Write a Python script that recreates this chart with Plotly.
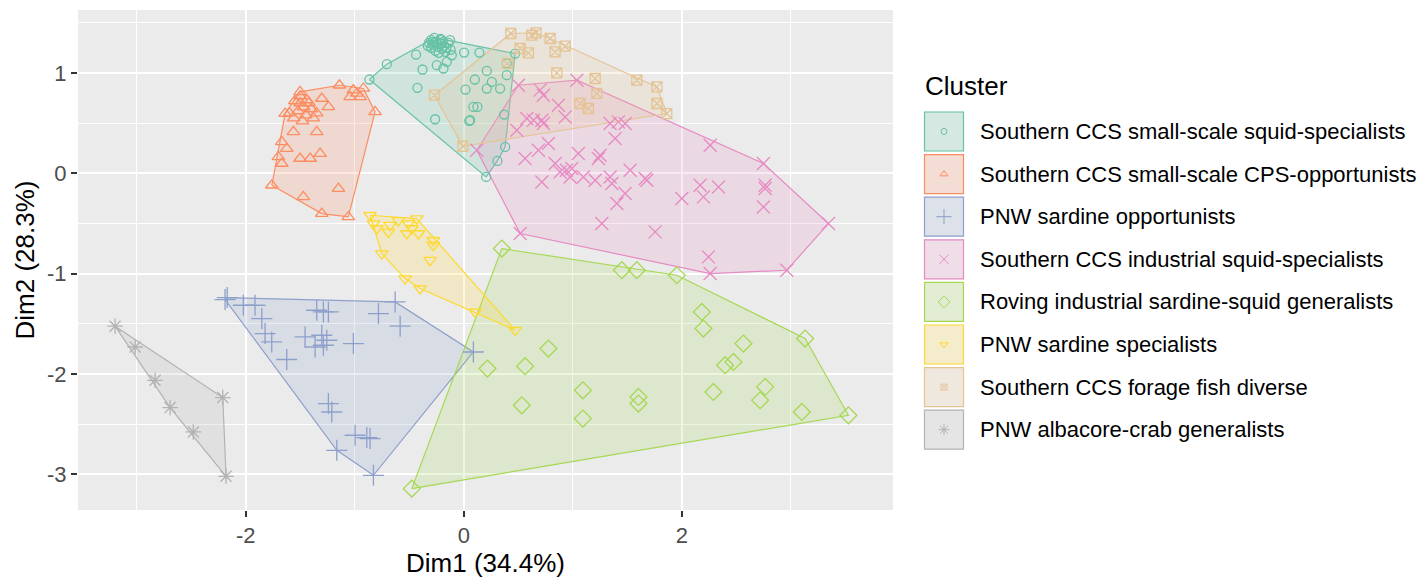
import plotly.graph_objects as go

FONT = "Liberation Sans, Arial, sans-serif"

cluster_names = [
    "Southern CCS small-scale squid-specialists",
    "Southern CCS small-scale CPS-opportunists",
    "PNW sardine opportunists",
    "Southern CCS industrial squid-specialists",
    "Roving industrial sardine-squid generalists",
    "PNW sardine specialists",
    "Southern CCS forage fish diverse",
    "PNW albacore-crab generalists",
]
cluster_colors = ["#66C2A5", "#FC8D62", "#8DA0CB", "#E78AC3",
                  "#A6D854", "#FFD92F", "#E5C494", "#B3B3B3"]
cluster_symbols = ["circle-open", "triangle-up-open", "cross-thin-open", "x-thin-open",
                   "diamond-open", "triangle-down-open", "square-x-open", "asterisk-open"]
cluster_sizes = [9, 11, 15, 13, 13, 11, 10, 13]

teal_x = [-0.866, -0.706, -0.438, -0.379, -0.426, -0.263, 0.003, 0.143, 0.211, 0.101, 0.015,
          0.257, 0.211, 0.333, 0.088, 0.125, 0.051, 0.394, 0.394, 0.471, 0.370, 0.379, 0.308,
          0.205, 0.058, -0.187, -0.248, -0.156, -0.110, -0.126,
          -0.32, -0.30, -0.28, -0.27, -0.25, -0.24, -0.22, -0.21, -0.20, -0.19, -0.18, -0.30,
          -0.26, -0.23, -0.16, -0.14, -0.33, -0.29, -0.24, -0.21, -0.17, -0.12]
teal_y = [0.934, 1.087, 1.183, 1.034, 0.851, 0.538, 1.203, 1.203, 1.020, 0.934, 0.834,
          0.910, 0.844, 0.844, 0.661, 0.661, 0.521, 0.977, 1.094, 1.193, 0.585, 0.262, 0.123,
          -0.037, 0.528, 1.044, 1.077, 1.110, 1.176, 1.326,
          1.30, 1.33, 1.28, 1.35, 1.31, 1.26, 1.33, 1.29, 1.24, 1.31, 1.27, 1.25,
          1.22, 1.20, 1.25, 1.30, 1.27, 1.31, 1.29, 1.34, 1.21, 1.23]

orange_x = [-1.141, -1.502, -0.814, -1.639, -1.761, -1.472, -1.303, -1.059, -1.150, -1.563,
            -1.349, -1.670, -1.624, -1.701, -1.670, -1.502, -1.410, -1.318, -1.303, -1.242,
            -1.013, -0.982, -0.951, -1.043, -0.921,
            -1.55, -1.50, -1.47, -1.44, -1.52, -1.45, -1.40, -1.38, -1.56, -1.48, -1.42,
            -1.35, -1.50, -1.60]
orange_y = [0.877, 0.811, 0.611, 0.595, -0.120, -0.236, -0.402, -0.436, -0.153, 0.412,
            0.412, 0.312, 0.246, 0.163, 0.097, 0.147, 0.147, 0.196, 0.745, 0.661,
            0.828, 0.795, 0.761, 0.761, 0.845,
            0.72, 0.70, 0.66, 0.73, 0.62, 0.58, 0.64, 0.55, 0.55, 0.52, 0.70,
            0.60, 0.77, 0.60]

blue_x = [-2.190, -2.170, -2.022, -1.915, -1.853, -1.823, -1.762, -1.624, -1.349, -1.288,
          -1.242, -1.456, -1.364, -1.303, -1.288, -1.257, -1.013, -0.783, -0.630, -0.584,
          0.088, -1.242, -1.211, -0.997, -0.890, -0.860, -1.165, -0.829]
blue_y = [-1.259, -1.240, -1.316, -1.316, -1.449, -1.598, -1.682, -1.857, -1.366, -1.383,
          -1.383, -1.632, -1.732, -1.615, -1.715, -1.665, -1.698, -1.399, -1.283, -1.525,
          -1.782, -2.296, -2.380, -2.612, -2.635, -2.645, -2.762, -3.011]

pink_x = [0.119, 0.501, 1.037, 2.749, 3.345, 2.963, 2.260, 0.517, 0.700, 0.730, 0.868, 0.929,
          0.486, 0.578, 0.639, 0.716, 0.730, 1.342, 1.418, 1.480, 1.388, 2.260, 0.562, 0.684,
          0.776, 0.838, 0.883, 0.942, 0.991, 0.975, 1.051, 1.097, 1.205, 1.235, 1.251, 1.342,
          1.358, 1.526, 1.664, 1.679, 0.716, 1.480, 1.404, 1.266, 1.755, 2.000, 2.168, 2.198,
          2.336, 2.764, 2.764, 2.749, 2.244]
pink_y = [0.229, 0.877, 0.927, 0.097, -0.502, -0.967, -1.000, -0.601, 0.828, 0.778, 0.678, 0.561,
          0.429, 0.545, 0.528, 0.528, 0.495, 0.495, 0.512, 0.495, 0.346, 0.279, 0.146, 0.229,
          0.296, 0.097, 0.013, 0.030, 0.047, -0.037, 0.196, -0.037, -0.070, 0.146, 0.179, -0.037,
          -0.103, 0.030, -0.053, -0.070, -0.087, -0.202, -0.302, -0.502, -0.585, -0.252, -0.120, -0.236,
          -0.137, -0.120, -0.153, -0.336, -0.834]

green_x = [0.349, 1.450, 1.587, 1.954, 3.131, 3.528, -0.477, 2.183, 2.198, 2.565, 2.397, 2.473,
           2.290, 2.764, 2.718, 3.101, 0.776, 0.562, 0.217, 1.092, 1.602, 1.602, 0.532, 1.092]
green_y = [-0.751, -0.967, -0.967, -1.017, -1.648, -2.413, -3.144, -1.383, -1.548, -1.698, -1.914, -1.881,
           -2.180, -2.130, -2.263, -2.380, -1.748, -1.924, -1.947, -2.164, -2.230, -2.296, -2.313, -2.446]

yellow_x = [-0.860, -0.829, -0.798, -0.676, -0.692, -0.508, -0.477, -0.523, -0.416, -0.279,
            -0.279, -0.309, -0.752, -0.539, -0.401, 0.104, 0.471, -0.431, -0.600]
yellow_y = [-0.419, -0.502, -0.551, -0.518, -0.585, -0.502, -0.551, -0.601, -0.601, -0.668,
            -0.718, -0.867, -0.801, -1.050, -1.150, -1.383, -1.565, -0.452, -0.470]

tan_x = [0.431, 0.624, 0.663, 0.792, 0.929, 0.838, 0.517, 0.593, 0.400, 0.853, 1.205, 1.220,
         1.067, 1.143, 1.587, 1.771, 1.771, 1.862, -0.270, -0.009]
tan_y = [1.393, 1.376, 1.399, 1.343, 1.266, 1.209, 1.243, 1.200, 1.094, 1.000, 0.944, 0.795,
         0.695, 0.645, 0.927, 0.861, 0.695, 0.595, 0.778, 0.269]

grey_x = [-3.199, -3.015, -2.832, -2.694, -2.481, -2.211, -2.181]
grey_y = [-1.525, -1.732, -2.064, -2.336, -2.579, -2.236, -3.021]

cluster_x = [teal_x, orange_x, blue_x, pink_x, green_x, yellow_x, tan_x, grey_x]
cluster_y = [teal_y, orange_y, blue_y, pink_y, green_y, yellow_y, tan_y, grey_y]

x_range = [-3.539, 3.937]
y_range = [-3.357, 1.627]
x_ticks = [-2, 0, 2]
y_ticks = [-3, -2, -1, 0, 1]


def convex_hull(xs, ys):
    pts = sorted(set(zip(xs, ys)))
    if len(pts) < 3:
        return pts

    def cross(o, a, b):
        return (a[0] - o[0]) * (b[1] - o[1]) - (a[1] - o[1]) * (b[0] - o[0])

    lower, upper = [], []
    for p in pts:
        while len(lower) >= 2 and cross(lower[-2], lower[-1], p) <= 0:
            lower.pop()
        lower.append(p)
    for p in reversed(pts):
        while len(upper) >= 2 and cross(upper[-2], upper[-1], p) <= 0:
            upper.pop()
        upper.append(p)
    return lower[:-1] + upper[:-1]


def rgba(hexc, a):
    h = hexc.lstrip("#")
    r, g, b = int(h[0:2], 16), int(h[2:4], 16), int(h[4:6], 16)
    return f"rgba({r},{g},{b},{a})"


fig = go.Figure()

# hulls
for name, xs, ys, col in zip(cluster_names, cluster_x, cluster_y, cluster_colors):
    hull = convex_hull(xs, ys)
    hx = [p[0] for p in hull] + [hull[0][0]]
    hy = [p[1] for p in hull] + [hull[0][1]]
    fig.add_trace(go.Scatter(
        x=hx, y=hy, mode="lines", fill="toself",
        fillcolor=rgba(col, 0.2), line=dict(color=col, width=1.2),
        hoverinfo="skip", showlegend=False, xaxis="x", yaxis="y"))

# points
for name, xs, ys, col, sym, sz in zip(cluster_names, cluster_x, cluster_y,
                                      cluster_colors, cluster_symbols, cluster_sizes):
    fig.add_trace(go.Scatter(
        x=xs, y=ys, mode="markers", name=name,
        marker=dict(symbol=sym, size=sz, color=col, line=dict(color=col, width=1.3)),
        showlegend=False, xaxis="x", yaxis="y"))

# manual legend on a pixel-unit overlay axis
L_X0 = 914
key_left, key_w, key_h = 924, 40, 40
row0, pitch = 131.5, 42.6
shapes = []
annotations = []
key_cx, key_cy = [], []
for i, (name, col) in enumerate(zip(cluster_names, cluster_colors)):
    cy = row0 + pitch * i
    shapes.append(dict(type="rect", xref="x2", yref="y2",
                       x0=key_left, x1=key_left + key_w, y0=cy - key_h / 2, y1=cy + key_h / 2,
                       fillcolor="#F2F2F2", line=dict(width=0), layer="below"))
    shapes.append(dict(type="rect", xref="x2", yref="y2",
                       x0=key_left + 0.5, x1=key_left + key_w - 0.5,
                       y0=cy - key_h / 2 + 0.5, y1=cy + key_h / 2 - 0.5,
                       fillcolor=rgba(col, 0.2), line=dict(color=col, width=1.2)))
    annotations.append(dict(xref="x2", yref="y2", x=978, y=cy, text=name,
                            showarrow=False, xanchor="left", yanchor="middle",
                            font=dict(family=FONT, size=22, color="black")))
    key_cx.append(key_left + key_w / 2)
    key_cy.append(cy)

for i in range(len(cluster_names)):
    fig.add_trace(go.Scatter(
        x=[key_cx[i]], y=[key_cy[i]], mode="markers",
        marker=dict(symbol=cluster_symbols[i], size=max(6, cluster_sizes[i] - 4),
                    color=cluster_colors[i], line=dict(color=cluster_colors[i], width=1)),
        showlegend=False, hoverinfo="skip", xaxis="x2", yaxis="y2"))

annotations.append(dict(xref="x2", yref="y2", x=923, y=86, text="Cluster",
                        showarrow=False, xanchor="left", yanchor="middle",
                        font=dict(family=FONT, size=26, color="black")))

W, H = 1427, 586
ML, MR, MT, MB = 78, 0, 10, 76
plot_w = W - ML - MR
main_end = (893 - ML) / plot_w
leg_start = (L_X0 - ML) / plot_w

fig.update_layout(
    width=W, height=H,
    margin=dict(l=ML, r=MR, t=MT, b=MB),
    paper_bgcolor="white", plot_bgcolor="white",
    font=dict(family=FONT),
    shapes=[dict(type="rect", xref="paper", yref="paper", x0=0, x1=main_end, y0=0, y1=1,
                 fillcolor="#EBEBEB", line=dict(width=0), layer="below")] + shapes,
    annotations=annotations,
    xaxis=dict(domain=[0, main_end], range=x_range, tickvals=x_ticks,
               ticktext=[str(v) for v in x_ticks],
               showgrid=True, gridcolor="white", gridwidth=2, zeroline=False,
               minor=dict(dtick=1, tick0=1, showgrid=True, gridcolor="white", gridwidth=1),
               ticks="outside", ticklen=6, tickwidth=2, tickcolor="#333333",
               tickfont=dict(family=FONT, size=22, color="#4D4D4D"),
               title=dict(text="Dim1 (34.4%)", font=dict(family=FONT, size=26, color="black"),
                          standoff=2),
               showline=False, automargin=False, fixedrange=True),
    yaxis=dict(domain=[0, 1], range=y_range, tickvals=y_ticks,
               ticktext=[str(v) for v in y_ticks],
               showgrid=True, gridcolor="white", gridwidth=2, zeroline=False,
               minor=dict(dtick=1, tick0=0.5, showgrid=True, gridcolor="white", gridwidth=1),
               ticks="outside", ticklen=6, tickwidth=2, tickcolor="#333333",
               tickfont=dict(family=FONT, size=22, color="#4D4D4D"),
               title=dict(text="Dim2 (28.3%)", font=dict(family=FONT, size=26, color="black"),
                          standoff=4),
               showline=False, automargin=False, fixedrange=True),
    xaxis2=dict(domain=[leg_start, 1], range=[L_X0, W], visible=False, fixedrange=True,
                anchor="y2"),
    yaxis2=dict(domain=[0, 1], range=[H - MB, MT], visible=False, fixedrange=True,
                anchor="x2"),
    showlegend=False,
)

fig.write_html("out.html",
               config={"displayModeBar": False},
               post_script="document.body.style.margin='0px';document.body.style.padding='0px';")
